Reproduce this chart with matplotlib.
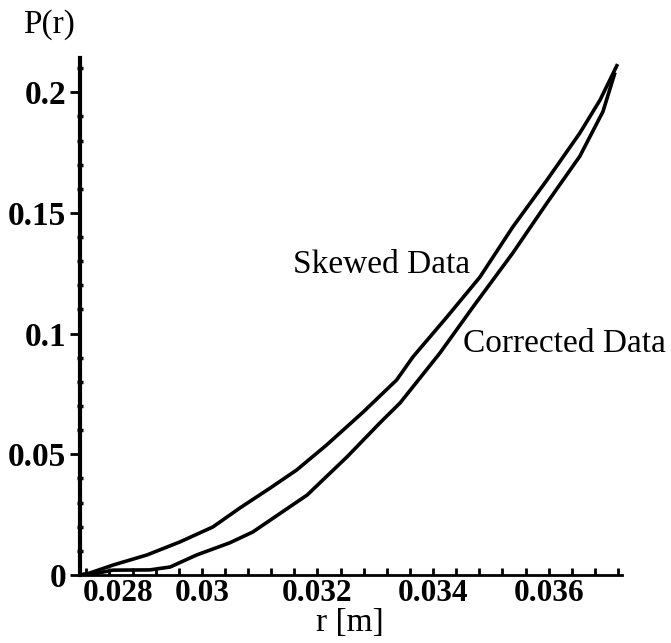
import numpy as np
import matplotlib
matplotlib.use("Agg")
import matplotlib.pyplot as plt
import matplotlib.transforms as mtransforms
from matplotlib.ticker import MultipleLocator

plt.rcParams['font.family'] = ['Liberation Serif', 'DejaVu Serif']

# values
r_skewed = [0.02789, 0.02806, 0.02846, 0.02905, 0.02962, 0.03019, 0.03066, 0.03118,
            0.03164, 0.03216, 0.03279, 0.03337, 0.03365, 0.03424, 0.03481, 0.03538,
            0.03597, 0.03654, 0.03689, 0.03718]
p_skewed = [0.0, 0.0008, 0.0041, 0.0083, 0.0137, 0.0199, 0.0278, 0.0360,
            0.0435, 0.0539, 0.0675, 0.0808, 0.0903, 0.1069, 0.1234, 0.1442,
            0.1636, 0.1831, 0.1968, 0.2110]

r_corrected = [0.02789, 0.02824, 0.02846, 0.02910, 0.02945, 0.02991, 0.03048, 0.03088,
               0.03123, 0.03182, 0.03251, 0.03308, 0.03343, 0.03412, 0.03469, 0.03538,
               0.03597, 0.03654, 0.03694, 0.03714]
p_corrected = [0.0, 0.0010, 0.0020, 0.0021, 0.0033, 0.0083, 0.0133, 0.0178,
               0.0235, 0.0331, 0.0489, 0.0630, 0.0713, 0.0920, 0.1110, 0.1334,
               0.1541, 0.1735, 0.1920, 0.2075]

x_ticks = [0.028, 0.030, 0.032, 0.034, 0.036]
x_labels = ['0.028', '0.03', '0.032', '0.034', '0.036']
y_ticks = [0, 0.05, 0.1, 0.15, 0.2]
y_labels = ['0', '0.05', '0.1', '0.15', '0.2']

fig = plt.figure(figsize=(6.71, 6.43), dpi=100)
ax = fig.add_axes([0.1192, 0.1058, 0.927 - 0.1192, 0.9098 - 0.1058])

ax.plot(r_skewed, p_skewed, color='black', lw=2.6)
ax.plot(r_corrected, p_corrected, color='black', lw=2.6)

ax.set_xlim(0.02789, 0.03727)
ax.set_ylim(0, 0.2142)

for s in ['top', 'right']:
    ax.spines[s].set_visible(False)
ax.spines['left'].set_linewidth(3)
ax.spines['bottom'].set_linewidth(2)

ax.set_xticks(x_ticks)
ax.set_xticklabels(x_labels, fontsize=22.5, fontweight='bold')
ax.xaxis.set_minor_locator(MultipleLocator(0.0004))
ax.set_yticks(y_ticks)
ax.set_yticklabels(y_labels, fontsize=24, fontweight='bold')
ax.yaxis.set_minor_locator(MultipleLocator(0.01))

ax.tick_params(axis='x', which='both', direction='in', length=5, width=2, pad=3)
ax.tick_params(axis='y', which='major', direction='out', length=7, width=2, pad=3)
ax.tick_params(axis='y', which='minor', direction='inout', length=5, width=2.5)

# first x label sits right of the axis
lab0 = ax.get_xticklabels()[0]
lab0.set_transform(lab0.get_transform() + mtransforms.ScaledTranslation(0.32, 0, fig.dpi_scale_trans))

ax.text(0.031574, 0.1251, 'Skewed Data', fontsize=24, va='baseline', ha='left')
ax.text(0.034516, 0.0924, 'Corrected Data', fontsize=24, va='baseline', ha='left')

fig.text(0.0343, 0.9487, 'P(r)', fontsize=24, va='baseline', ha='left')
fig.text(0.5216, 0.0190, 'r [m]', fontsize=24, va='baseline', ha='center')

fig.savefig('out.png', dpi=100)
